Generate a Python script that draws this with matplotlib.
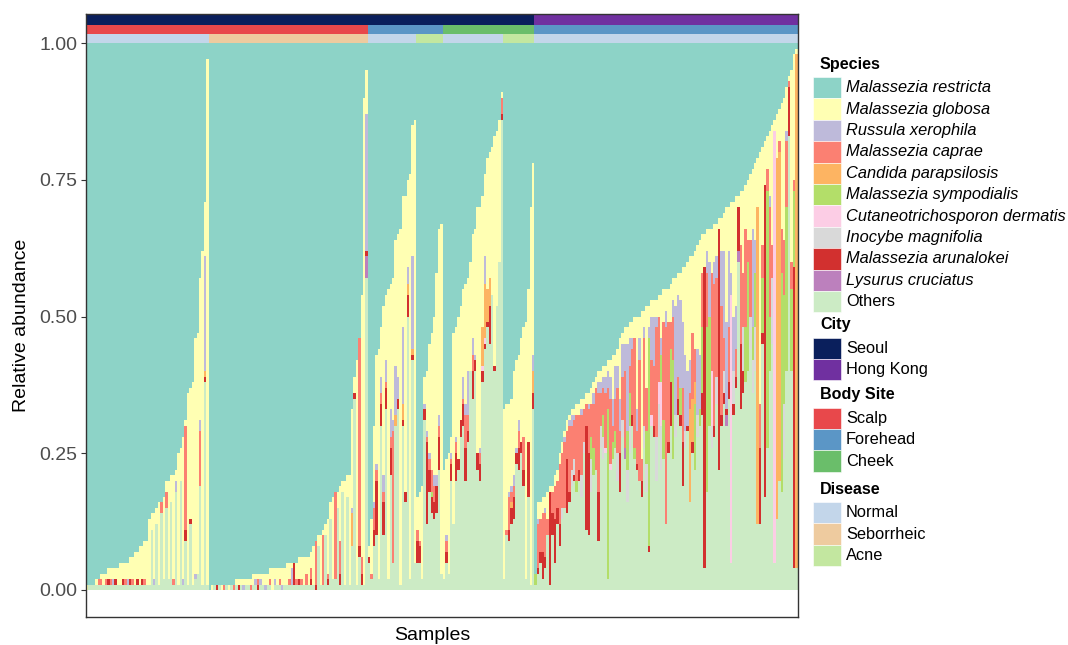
import numpy as np
import matplotlib
matplotlib.use('Agg')
import matplotlib.pyplot as plt
from matplotlib.patches import Rectangle

plt.rcParams['font.family'] = ['Liberation Sans', 'DejaVu Sans']

# sample groups from left to right
group_sizes = [51, 66, 20, 11, 25, 13, 109]
group_city = ['Seoul', 'Seoul', 'Seoul', 'Seoul', 'Seoul', 'Seoul', 'Hong Kong']
group_site = ['Scalp', 'Scalp', 'Forehead', 'Forehead', 'Cheek', 'Cheek', 'Forehead']
group_disease = ['Normal', 'Seborrheic', 'Normal', 'Acne', 'Normal', 'Acne', 'Normal']

# relative abundance per sample, in percent
restricta = [
    # Seoul scalp normal
    99, 99, 99, 99, 98, 98, 97, 97, 97, 96, 96, 96, 96, 96, 95, 95, 95, 95, 94, 94,
    93, 93, 92, 92, 91, 91, 87, 86, 86, 85, 84, 84, 83, 80, 80, 79, 79, 78, 75, 74,
    72, 69, 64, 63, 62, 54, 53, 43, 38, 29, 3,
    # Seoul scalp seborrheic
    100, 99, 99, 99, 99, 99, 99, 99, 99, 99, 99, 98, 98, 98, 98, 98, 98, 98, 97, 97,
    97, 97, 97, 97, 97, 96, 96, 96, 96, 96, 96, 96, 95, 95, 95, 95, 95, 94, 94, 94,
    94, 94, 93, 92, 91, 90, 90, 89, 88, 87, 84, 83, 82, 82, 81, 80, 80, 79, 79, 67,
    61, 58, 54, 46, 10, 5,
    # Seoul forehead normal
    92, 87, 70, 57, 56, 52, 48, 46, 45, 44, 43, 36, 35, 34, 28, 28, 25, 24, 15, 14,
    # Seoul forehead acne
    83, 82, 81, 61, 60, 55, 53, 50, 42, 34, 33,
    # Seoul cheek normal
    78, 76, 75, 72, 53, 52, 50, 48, 45, 44, 43, 40, 35, 34, 30, 30, 28, 24, 21, 20,
    19, 17, 16, 14, 9,
    # Seoul cheek acne
    67, 66, 66, 65, 60, 58, 57, 54, 52, 51, 45, 30, 22,
    # Hong Kong forehead normal
    97, 84, 84, 83, 83, 82, 81, 81, 79, 78, 75, 73, 71, 69, 68, 67, 67, 66, 66, 65,
    65, 64, 64, 63, 62, 61, 60, 60, 59, 59, 58, 58, 57, 57, 56, 54, 53, 52, 52, 51,
    51, 50, 50, 50, 49, 49, 48, 48, 47, 47, 47, 46, 46, 45, 45, 45, 44, 43, 43, 42,
    42, 41, 41, 40, 39, 39, 38, 37, 36, 35, 35, 34, 34, 34, 33, 33, 32, 32, 31, 30,
    30, 29, 29, 28, 28, 27, 27, 26, 25, 24, 23, 22, 21, 20, 19, 18, 17, 16, 15, 14,
    13, 12, 11, 10, 8, 6, 5, 2, 1,
]

others = [
    0, 1, 1, 1, 1, 1, 1, 1, 1, 1, 1, 1, 1, 1, 1, 1, 1, 1, 1, 1,
    1, 1, 1, 1, 1, 1, 1, 11, 1, 12, 1, 14, 2, 15, 2, 16, 1, 18, 1, 20,
    1, 9, 1, 12, 1, 2, 3, 19, 1, 38, 1,
    0, 0, 1, 0, 1, 0, 0, 1, 0, 1, 0, 1, 0, 1, 0, 1, 1, 0, 1, 1,
    0, 1, 1, 0, 1, 1, 0, 1, 1, 1, 0, 1, 1, 1, 1, 1, 1, 1, 1, 1,
    1, 1, 1, 1, 0, 8, 1, 1, 10, 1, 13, 2, 2, 15, 1, 18, 1, 17, 1, 8,
    35, 1, 6, 1, 1, 57,
    5, 2, 8, 10, 2, 30, 10, 33, 2, 21, 5, 30, 33, 1, 30, 16, 50, 2, 42, 5,
    5, 5, 2, 31, 12, 18, 14, 13, 14, 22, 3,
    2, 5, 3, 20, 12, 20, 22, 28, 30, 20, 27, 40, 35, 40, 22, 20, 38, 44, 48, 45,
    54, 40, 52, 60, 86,
    2, 10, 9, 12, 13, 23, 22, 25, 19, 2, 17, 1, 33,
    1, 3, 5, 2, 4, 10, 1, 10, 5, 12, 8, 13, 15, 14, 16, 19, 20, 18, 20, 17,
    25, 11, 10, 18, 21, 22, 9, 26, 24, 25, 2, 22, 24, 26, 20, 18, 28, 24, 16, 25,
    30, 24, 22, 20, 17, 26, 18, 7, 30, 28, 20, 28, 22, 24, 12, 25, 30, 24, 28, 32,
    30, 19, 26, 29, 16, 25, 22, 28, 30, 32, 4, 18, 30, 26, 28, 34, 22, 30, 34, 30,
    35, 5, 32, 37, 60, 33, 36, 38, 40, 44, 36, 40, 12, 12, 45, 17, 26, 40, 45, 5,
    13, 20, 18, 24, 40, 83, 40, 4, 4,
]

caprae = [
    0, 0, 0, 0, 0, 1, 1, 0, 1, 0, 1, 0, 0, 0, 0, 0, 1, 0, 0, 1,
    0, 0, 0, 0, 1, 0, 0, 0, 0, 0, 0, 2, 0, 3, 0, 0, 1, 0, 0, 0,
    0, 19, 0, 0, 0, 0, 0, 10, 0, 0, 0,
    0, 0, 0, 0, 0, 0, 1, 0, 0, 0, 1, 0, 0, 0, 0, 0, 0, 1, 0, 0,
    1, 0, 0, 0, 0, 1, 0, 0, 0, 1, 0, 0, 0, 1, 0, 0, 1, 0, 1, 0,
    2, 0, 2, 0, 8, 0, 0, 9, 0, 1, 0, 0, 16, 0, 6, 0, 0, 0, 0, 0,
    0, 0, 38, 3, 0, 0,
    0, 1, 4, 2, 0, 2, 2, 1, 0, 2, 24, 0, 0, 0, 0, 0, 0, 0, 0, 0,
    2, 1, 0, 0, 1, 2, 4, 3, 0, 2, 0,
    0, 2, 0, 1, 0, 2, 0, 0, 1, 6, 3, 0, 3, 0, 0, 2, 0, 0, 0, 0,
    0, 0, 0, 0, 3,
    0, 1, 6, 2, 2, 0, 3, 0, 6, 0, 0, 0, 0,
    0, 8, 6, 7, 8, 3, 0, 4, 6, 5, 11, 10, 12, 5, 12, 8, 7, 12, 10, 11,
    6, 4, 8, 6, 8, 15, 18, 6, 5, 10, 4, 12, 3, 6, 12, 4, 8, 14, 0, 5,
    12, 20, 6, 22, 4, 16, 8, 0, 10, 11, 20, 12, 0, 18, 36, 22, 5, 8, 0, 4,
    0, 10, 0, 0, 3, 12, 6, 0, 0, 10, 0, 10, 0, 18, 26, 18, 0, 20, 6, 0,
    10, 0, 0, 5, 0, 18, 10, 18, 4, 14, 0, 0, 0, 8, 6, 0, 4, 20, 6, 0,
    0, 2, 8, 10, 12, 1, 5, 2, 0,
]

arunalokei = [
    0, 0, 0, 0, 0, 0, 0, 0, 0, 1, 0, 0, 1, 0, 0, 1, 0, 0, 1, 0,
    0, 1, 0, 1, 0, 0, 0, 0, 0, 0, 0, 0, 0, 0, 0, 0, 0, 0, 0, 0,
    0, 2, 0, 1, 0, 0, 0, 0, 0, 1, 0,
    0, 0, 0, 1, 0, 0, 0, 0, 0, 0, 0, 0, 1, 0, 0, 0, 0, 0, 0, 0,
    1, 0, 0, 0, 0, 0, 0, 0, 0, 0, 0, 0, 0, 0, 0, 4, 0, 1, 0, 0,
    0, 0, 1, 0, 1, 0, 0, 0, 0, 1, 0, 0, 0, 0, 2, 0, 0, 0, 0, 0,
    1, 0, 2, 2, 0, 1,
    1, 0, 3, 10, 0, 4, 6, 4, 0, 5, 0, 0, 2, 0, 1, 2, 4, 0, 1, 0,
    4, 3, 0, 2, 15, 4, 3, 3, 5, 6, 0,
    0, 2, 0, 3, 0, 5, 2, 3, 4, 6, 2, 0, 5, 2, 3, 3, 2, 1, 1, 7,
    0, 1, 0, 0, 1,
    0, 0, 2, 3, 4, 2, 4, 2, 3, 0, 10, 0, 3,
    0, 1, 2, 5, 2, 0, 17, 4, 8, 3, 4, 0, 0, 10, 2, 0, 1, 0, 2, 0,
    0, 19, 15, 0, 0, 0, 9, 0, 0, 0, 0, 0, 0, 0, 0, 7, 0, 0, 0, 0,
    2, 0, 1, 0, 3, 0, 0, 1, 0, 2, 0, 0, 0, 0, 0, 2, 8, 0, 0, 3,
    2, 8, 0, 1, 0, 2, 0, 0, 0, 4, 55, 0, 0, 0, 2, 0, 44, 2, 2, 1,
    3, 0, 2, 2, 8, 12, 4, 0, 0, 0, 0, 0, 0, 14, 2, 57, 0, 0, 0, 0,
    0, 0, 0, 0, 0, 9, 0, 55, 0,
]

russula = [
    0, 0, 0, 0, 0, 0, 0, 0, 0, 0, 0, 1, 0, 0, 0, 0, 0, 1, 0, 0,
    0, 0, 0, 0, 0, 0, 0, 0, 1, 0, 0, 0, 0, 0, 0, 0, 0, 2, 0, 0,
    1, 0, 0, 0, 0, 1, 0, 2, 0, 21, 0,
    0, 0, 0, 0, 0, 0, 0, 0, 0, 0, 0, 0, 0, 0, 1, 0, 0, 0, 0, 1,
    0, 1, 0, 1, 0, 0, 0, 1, 0, 0, 1, 0, 0, 0, 3, 0, 0, 0, 0, 0,
    0, 0, 0, 0, 0, 0, 0, 0, 0, 0, 0, 0, 0, 0, 0, 0, 0, 0, 0, 1,
    0, 0, 0, 0, 0, 25,
    0, 0, 1, 1, 0, 3, 3, 4, 0, 5, 2, 9, 4, 0, 14, 0, 3, 0, 17, 0,
    0, 0, 0, 1, 1, 1, 0, 2, 2, 2, 0,
    0, 1, 0, 1, 0, 1, 0, 0, 4, 2, 8, 0, 3, 1, 0, 1, 0, 5, 0, 0,
    0, 0, 0, 0, 0,
    0, 0, 1, 1, 2, 1, 2, 0, 0, 0, 0, 0, 3,
    0, 1, 0, 0, 1, 0, 0, 0, 0, 0, 0, 0, 1, 0, 1, 2, 1, 0, 0, 1,
    0, 0, 1, 0, 2, 0, 2, 2, 2, 3, 3, 4, 5, 6, 4, 6, 6, 5, 16, 5,
    2, 0, 4, 4, 0, 2, 0, 2, 8, 9, 2, 0, 3, 0, 3, 0, 0, 3, 20, 15,
    16, 12, 14, 10, 6, 0, 0, 12, 10, 0, 0, 4, 10, 0, 4, 4, 0, 10, 16, 16,
    14, 4, 10, 8, 0, 0, 0, 0, 0, 0, 18, 6, 0, 0, 0, 0, 0, 2, 0, 0,
    0, 0, 0, 0, 2, 0, 0, 0, 0,
]

candida = ([0] * 49 + [1, 0]
           + [0] * 59 + [6] + [0] * 6
           + [0, 0, 0, 0, 0, 0, 0, 0, 0, 0, 0, 2, 0, 0, 3, 0, 2, 0, 1, 0]
           + [0] * 11
           + [0] * 16 + [7, 10, 6, 5] + [0] * 5
           + [0, 0, 0, 1, 0, 0, 0, 0, 0, 0, 0, 0, 4]
           + [0] * 64 + [17, 8, 4] + [0] * 25 + [58] + [0] * 7 + [66, 60] + [0] * 6 + [94])

sympodialis = ([0] * 137
               + [0, 0, 0, 0, 0, 0, 1, 0, 0, 0, 0]
               + [0] * 38 + [
    2, 0, 0, 0, 0, 0, 0, 0, 0, 0, 0, 0, 0, 0, 0, 0, 0, 2, 0, 0,
    0, 0, 0, 4, 5, 0, 0, 0, 4, 0, 31, 0, 3, 3, 0, 0, 0, 0, 7, 6,
    0, 2, 0, 0, 0, 0, 6, 38, 0, 0, 0, 0, 5, 7, 0, 0, 6, 18, 0, 0,
    5, 0, 0, 0, 0, 0, 12, 0, 3, 12, 0, 30, 20, 0, 0, 0, 0, 0, 0, 0,
    0, 0, 0, 0, 0, 0, 0, 10, 20, 0, 6, 10, 0, 0, 10, 0, 47, 10, 0, 0,
    0, 0, 40, 20, 30, 0, 15, 14, 0,
])

cutaneo = ([0] * 148
           + [0] * 16 + [1, 1] + [0] * 7
           + [0] * 13 + [
    0, 0, 0, 0, 0, 0, 0, 0, 0, 0, 0, 0, 0, 0, 0, 0, 0, 0, 0, 0,
    0, 0, 0, 0, 0, 0, 0, 0, 0, 1, 0, 1, 0, 0, 0, 0, 0, 0, 0, 0,
    0, 0, 0, 0, 0, 0, 0, 0, 2, 0, 0, 4, 8, 0, 0, 0, 0, 0, 0, 0,
    0, 0, 0, 0, 0, 0, 0, 0, 0, 0, 0, 0, 0, 10, 0, 0, 0, 0, 0, 0,
    0, 49, 0, 0, 0, 0, 0, 0, 0, 0, 0, 0, 0, 0, 0, 0, 0, 0, 0, 79,
    0, 0, 0, 0, 0, 0, 0, 0, 0,
])

inocybe = [0] * 186 + [
    0, 0, 0, 0, 0, 0, 0, 0, 0, 0, 0, 2, 0, 0, 0, 3, 3, 0, 0, 4,
    2, 0, 0, 6, 0, 0, 0, 4, 4, 0, 0, 0, 0, 0, 5, 0, 3, 0, 6, 5,
    0, 0, 0, 0, 0, 4, 5, 0, 0, 0, 8, 6, 8, 0, 0, 0, 0, 0, 4, 0,
    0, 0, 3, 0, 0, 0, 0, 4, 0, 0, 0, 0, 0, 4, 0, 5, 0, 0, 4, 0,
    0, 0, 6, 0, 0, 0, 8, 0, 0, 6, 6, 8, 0, 0, 0, 0, 0, 0, 12, 0,
    0, 0, 0, 10, 0, 0, 0, 0, 0,
]

lysurus = ([0] * 51 + [0] * 65 + [4] + [0] * 69
           + [0] * 37 + [2] + [0] * 41 + [2] + [0] * 4 + [2] + [0] * 24)

species_names = ['Malassezia restricta', 'Malassezia globosa', 'Russula xerophila',
                 'Malassezia caprae', 'Candida parapsilosis', 'Malassezia sympodialis',
                 'Cutaneotrichosporon dermatis', 'Inocybe magnifolia',
                 'Malassezia arunalokei', 'Lysurus cruciatus', 'Others']
species_colors = ['#8DD3C7', '#FFFFB3', '#BEBADA', '#FB8072', '#FDB462', '#B3DE69',
                  '#FCCDE5', '#D9D9D9', '#D2302F', '#BC80BD', '#CCEBC5']
city_colors = {'Seoul': '#0A1F5C', 'Hong Kong': '#7030A0'}
site_colors = {'Scalp': '#E8484B', 'Forehead': '#5B96C6', 'Cheek': '#6ABE6A'}
disease_colors = {'Normal': '#C3D6EA', 'Seborrheic': '#EECB9F', 'Acne': '#C3E7A0'}

n = sum(group_sizes)
minor = [russula, caprae, candida, sympodialis, cutaneo, inocybe, arunalokei, lysurus, others]
for lst in [restricta] + minor:
    assert len(lst) == n, len(lst)

# abundances add up to 100 %, M. globosa fills what is left
globosa = np.clip(100 - np.array(restricta) - np.sum(minor, axis=0), 0, None)

abund = {
    'Malassezia restricta': restricta, 'Malassezia globosa': globosa,
    'Russula xerophila': russula, 'Malassezia caprae': caprae,
    'Candida parapsilosis': candida, 'Malassezia sympodialis': sympodialis,
    'Cutaneotrichosporon dermatis': cutaneo, 'Inocybe magnifolia': inocybe,
    'Malassezia arunalokei': arunalokei, 'Lysurus cruciatus': lysurus, 'Others': others,
}

W, H = 1068, 645
fig = plt.figure(figsize=(W / 100, H / 100), dpi=100)
ax = fig.add_axes([85.5 / W, 1 - 617 / H, 712 / W, (617 - 13.5) / H])

x = np.arange(n)
bottom = np.zeros(n)
for name, col in list(zip(species_names, species_colors))[::-1]:
    vals = np.asarray(abund[name], dtype=float) / 100
    ax.bar(x, vals, bottom=bottom, width=1.0, color=col, linewidth=0, antialiased=False)
    bottom += vals

# annotation strips above the bars
city = np.repeat(group_city, group_sizes)
site = np.repeat(group_site, group_sizes)
disease = np.repeat(group_disease, group_sizes)
for labels, cmap, y0, h in [(disease, disease_colors, 1.0, 0.0165),
                            (site, site_colors, 1.0165, 0.0165),
                            (city, city_colors, 1.033, 0.0185)]:
    ax.bar(x, h, bottom=y0, width=1.0, color=[cmap[l] for l in labels],
           linewidth=0, antialiased=False)

ax.set_xlim(-0.5, n - 0.5)
ax.set_ylim(-0.0494, 1.054)
ax.set_xticks([])
ax.set_yticks([0, 0.25, 0.5, 0.75, 1.0])
ax.set_yticklabels(['0.00', '0.25', '0.50', '0.75', '1.00'])
ax.tick_params(axis='y', length=3.5, width=0.8, color='#333333', labelsize=14,
               labelcolor='#4D4D4D', pad=2.5)
for s in ax.spines.values():
    s.set_color('#333333')
    s.set_linewidth(1.0)


def fx(px):
    return px / W


def fy(py):
    return 1 - py / H


fig.text(fx(432), fy(635), 'Samples', ha='center', va='center', fontsize=14)
fig.text(fx(22), fy(325), 'Relative abundance', ha='center', va='center',
         rotation=90, fontsize=14)

# legend
step = 21.4


def legend_block(title, title_y, first_top, labels, colors, italic):
    fig.text(fx(820), fy(title_y), title, ha='left', va='center',
             fontsize=11.6, fontweight='bold')
    for i, (lab, col) in enumerate(zip(labels, colors)):
        top = first_top + i * step
        fig.add_artist(Rectangle((fx(812.5), fy(top + step)), 28.5 / W, step / H,
                                 transform=fig.transFigure, facecolor=col,
                                 edgecolor='white', linewidth=0.4))
        style = 'italic' if italic and lab != 'Others' else 'normal'
        fig.text(fx(846), fy(top + step / 2), lab, ha='left', va='center',
                 fontsize=11.8, style=style)


legend_block('Species', 65, 77, species_names, species_colors, True)
legend_block('City', 325, 337.5, list(city_colors), list(city_colors.values()), False)
legend_block('Body Site', 395, 407.5, list(site_colors), list(site_colors.values()), False)
legend_block('Disease', 489, 502, list(disease_colors), list(disease_colors.values()), False)

fig.savefig('out.png', dpi=100)
